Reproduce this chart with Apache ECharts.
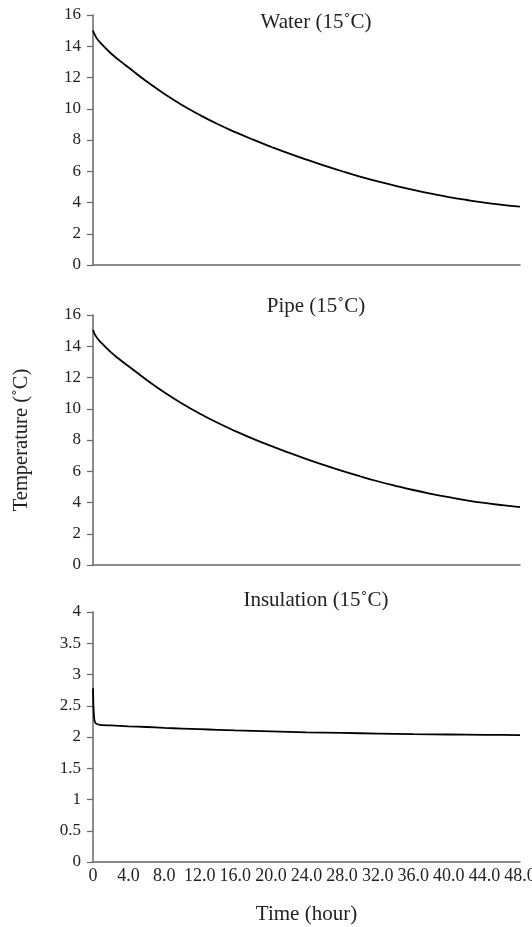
<!DOCTYPE html>
<html>
<head>
<meta charset="utf-8">
<script src="https://cdn.jsdelivr.net/npm/echarts@6/dist/echarts.min.js"></script>
<style>
  html, body { margin: 0; padding: 0; background: #fff; }
  #main { width: 532px; height: 927px; }
</style>
</head>
<body>
<div id="main"></div>
<script>
// time (hour) and temperatures
var hours = [0, 0.1, 0.25, 0.5, 1, 2, 3, 4, 6, 8, 10, 12, 14, 16, 18, 20, 22, 24, 26, 28, 30, 32, 34, 36, 38, 40, 42, 44, 46, 48];
var waterTemp = [15.0, 14.85, 14.68, 14.45, 14.12, 13.55, 13.08, 12.64, 11.76, 10.96, 10.24, 9.6, 9.02, 8.5, 8.02, 7.57, 7.14, 6.74, 6.36, 6.0, 5.66, 5.35, 5.07, 4.81, 4.57, 4.35, 4.16, 3.99, 3.85, 3.73];
var pipeTemp = [15.05, 14.9, 14.72, 14.5, 14.18, 13.62, 13.15, 12.72, 11.86, 11.06, 10.34, 9.69, 9.1, 8.57, 8.08, 7.62, 7.19, 6.78, 6.39, 6.02, 5.68, 5.36, 5.07, 4.8, 4.56, 4.34, 4.14, 3.97, 3.83, 3.71];
var insulHours = [0, 0.05, 0.15, 0.3, 0.6, 1, 2, 4, 6, 8, 10, 12, 14, 16, 20, 24, 28, 32, 36, 40, 44, 48];
var insulTemp = [2.78, 2.5, 2.28, 2.22, 2.2, 2.19, 2.185, 2.17, 2.16, 2.145, 2.135, 2.125, 2.115, 2.105, 2.09, 2.075, 2.065, 2.055, 2.045, 2.04, 2.035, 2.03];
var panelTitles = ['Water (15\u02DAC)', 'Pipe (15\u02DAC)', 'Insulation (15\u02DAC)'];

var FONT = '"Liberation Serif", "DejaVu Serif", serif';
var TXT = '#222';
var AX = '#666';

function pairs(xs, ys) {
  var out = [];
  for (var i = 0; i < xs.length; i++) out.push([xs[i], ys[i]]);
  return out;
}

var myChart = echarts.init(document.getElementById('main'));

var gridTops = [15, 315, 612];
var titleTops = [7, 291, 585];
var yMax = [16, 16, 4];
var yStep = [2, 2, 0.5];
var dataSets = [pairs(hours, waterTemp), pairs(hours, pipeTemp), pairs(insulHours, insulTemp)];
var grids = [], xAxes = [], yAxes = [], series = [], titles = [];

for (var i = 0; i < 3; i++) {
  var last = i === 2;
  grids.push({ left: 93, right: 12, top: gridTops[i], height: 250, outerBoundsMode: 'none', containLabel: false });
  xAxes.push({
    type: 'value', gridIndex: i, min: 0, max: 48, interval: 4,
    axisLine: { show: true, lineStyle: { color: AX, width: 1.5 } },
    axisTick: { show: false },
    splitLine: { show: false },
    axisLabel: {
      show: last, color: TXT, fontFamily: FONT, fontSize: 18, margin: 5,
      formatter: function (v) { return v === 0 ? '0' : v.toFixed(1); }
    },
    name: last ? 'Time (hour)' : '',
    nameLocation: 'middle', nameGap: 42,
    nameTextStyle: { color: TXT, fontFamily: FONT, fontSize: 21 }
  });
  yAxes.push({
    type: 'value', gridIndex: i, min: 0, max: yMax[i], interval: yStep[i],
    axisLine: { show: true, lineStyle: { color: AX, width: 1.5 } },
    axisTick: { show: true, length: 6, lineStyle: { color: AX, width: 1.2 } },
    splitLine: { show: false },
    axisLabel: { color: TXT, fontFamily: FONT, fontSize: 17, margin: 12 },
    name: i === 1 ? 'Temperature (\u02DAC)' : '',
    nameLocation: 'middle', nameGap: 61,
    nameTextStyle: { color: TXT, fontFamily: FONT, fontSize: 20.5 }
  });
  series.push({
    type: 'line', xAxisIndex: i, yAxisIndex: i,
    data: dataSets[i], showSymbol: false,
    smooth: last ? 0.2 : 0.5,
    lineStyle: { color: '#000', width: 1.8 }
  });
  titles.push({
    text: panelTitles[i], left: 311, top: titleTops[i], textAlign: 'center',
    textStyle: { color: TXT, fontFamily: FONT, fontSize: 21, fontWeight: 'normal' }
  });
}

var option = {
  backgroundColor: '#fff',
  animation: false,
  title: titles,
  grid: grids,
  xAxis: xAxes,
  yAxis: yAxes,
  series: series
};
myChart.setOption(option);
</script>
</body>
</html>
